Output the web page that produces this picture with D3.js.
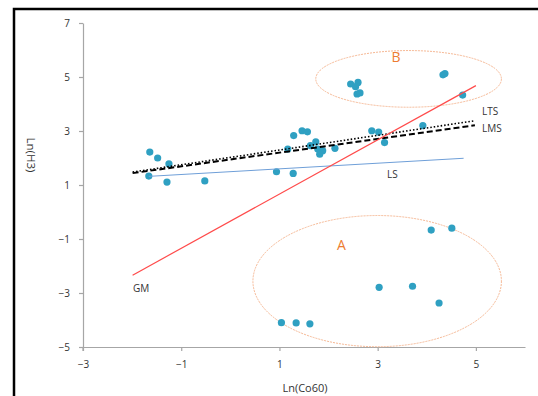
<!DOCTYPE html>
<html>
<head>
<meta charset="utf-8">
<script src="https://cdn.jsdelivr.net/npm/d3@7"></script>
<style>
body { margin: 0; background: #fff; }
text { font-family: "Open Sans", "Noto Sans", sans-serif; fill: #333; }
</style>
</head>
<body>
<svg id="chart" width="538" height="396"></svg>
<script>
// Ln(Co60) vs Ln(H3) points
var lnCo60 = [-1.64, -1.48, -1.25, -1.66, -1.29, -0.52,
    0.94, 1.28, 1.29, 1.46, 1.57, 1.17, 1.74, 1.63, 1.78, 1.88, 1.82, 2.13, 2.88, 3.02, 3.14, 3.92,
    2.45, 2.60, 2.55, 2.58, 2.64, 4.33, 4.37, 4.73,
    4.09, 4.51, 3.03, 3.71, 4.25, 1.04, 1.34, 1.62];
var lnH3 = [2.22, 2.00, 1.78, 1.33, 1.11, 1.15,
    1.49, 1.43, 2.83, 3.01, 2.97, 2.33, 2.60, 2.46, 2.33, 2.27, 2.14, 2.36, 3.01, 2.96, 2.57, 3.20,
    4.74, 4.80, 4.64, 4.37, 4.41, 5.08, 5.13, 4.33,
    -0.67, -0.60, -2.79, -2.75, -3.37, -4.10, -4.11, -4.14];

// fitted lines: name, x0, y0, x1, y1
var fitNames = ["LS", "LMS", "LTS", "GM"];
var fitX0 = [-1.66, -1.99, -1.99, -1.99];
var fitY0 = [1.32, 1.44, 1.48, -2.34];
var fitX1 = [4.75, 4.98, 4.98, 5.0];
var fitY1 = [1.99, 3.21, 3.38, 4.68];

// outlier groups: label, center x, center y, radius x, radius y, label spot
var groupNames = ["A", "B"];
var groupCx = [2.99, 3.63];
var groupCy = [-2.56, 4.93];
var groupRx = [2.53, 1.89];
var groupRy = [2.43, 1.05];
var groupLabelX = [2.17, 3.28];
var groupLabelY = [-1.41, 5.56];

var xTicks = [-3, -1, 1, 3, 5];
var yTicks = [-5, -3, -1, 1, 3, 5, 7];

var svg = d3.select("#chart");

// frame
svg.append("path")
    .attr("d", "M14,396 V9 H538")
    .attr("fill", "none")
    .attr("stroke", "#000")
    .attr("stroke-width", 2.5);

var x = d3.scaleLinear().domain([-3, 6]).range([83, 525]);
var y = d3.scaleLinear().domain([-5, 7]).range([347, 23]);

var fmt = function (d) { return d < 0 ? "\u2212" + Math.abs(d) : String(d); };

var xAxis = svg.append("g")
    .attr("transform", "translate(0," + y(-5) + ")")
    .call(d3.axisBottom(x).tickValues(xTicks).tickSize(4).tickSizeOuter(0).tickPadding(10).tickFormat(fmt));
var yAxis = svg.append("g")
    .attr("transform", "translate(" + x(-3) + ",0)")
    .call(d3.axisLeft(y).tickValues(yTicks).tickSize(4).tickSizeOuter(0).tickPadding(9).tickFormat(fmt));

[xAxis, yAxis].forEach(function (a) {
    a.select(".domain").attr("stroke", "#a6a6a6").attr("stroke-width", 1.2);
    a.selectAll(".tick line").attr("stroke", "#a6a6a6").attr("stroke-width", 1.2);
    a.selectAll(".tick text").attr("font-size", 10).attr("fill", "#333")
        .style("font-family", "'Open Sans', 'Noto Sans', sans-serif");
});
// y axis runs a little past the bottom
svg.append("line")
    .attr("x1", x(-3)).attr("x2", x(-3))
    .attr("y1", y(-5)).attr("y2", y(-5) + 4)
    .attr("stroke", "#a6a6a6").attr("stroke-width", 1.2);

svg.append("text")
    .attr("x", 305).attr("y", 392)
    .attr("text-anchor", "middle")
    .attr("font-size", 11)
    .text("Ln(Co60)");
svg.append("text")
    .attr("transform", "translate(27,155) rotate(90)")
    .attr("text-anchor", "middle")
    .attr("font-size", 11.5)
    .text("Ln(H3)");

// outlier ellipses
groupNames.forEach(function (g, i) {
    svg.append("ellipse")
        .attr("cx", x(groupCx[i]))
        .attr("cy", y(groupCy[i]))
        .attr("rx", x(groupCx[i] + groupRx[i]) - x(groupCx[i]))
        .attr("ry", y(groupCy[i] - groupRy[i]) - y(groupCy[i]))
        .attr("fill", "none")
        .attr("stroke", "#f6b894")
        .attr("stroke-width", 1)
        .attr("stroke-dasharray", "2,1");
    svg.append("text")
        .attr("x", x(groupLabelX[i]))
        .attr("y", y(groupLabelY[i]))
        .attr("font-size", 14)
        .style("fill", "#ed7d31")
        .text(g);
});

// points
svg.append("g")
    .selectAll("circle")
    .data(lnCo60)
    .enter().append("circle")
    .attr("cx", function (d) { return x(d); })
    .attr("cy", function (d, i) { return y(lnH3[i]); })
    .attr("r", 3.6)
    .attr("fill", "#2fa0c2");

// fitted lines
var lineStyle = {
    LS: { color: "#6f9fd8", width: 1, dash: null },
    LMS: { color: "#000", width: 2, dash: "6,3" },
    LTS: { color: "#000", width: 1.6, dash: "1.5,2" },
    GM: { color: "#ff4b4b", width: 1.2, dash: null }
};
fitNames.forEach(function (n, i) {
    var s = lineStyle[n];
    svg.append("line")
        .attr("x1", x(fitX0[i])).attr("y1", y(fitY0[i]))
        .attr("x2", x(fitX1[i])).attr("y2", y(fitY1[i]))
        .attr("stroke", s.color)
        .attr("stroke-width", s.width)
        .attr("stroke-dasharray", s.dash);
});

// line labels
var labelX = [387, 482, 482, 133];
var labelY = [178, 132, 115, 292];
fitNames.forEach(function (n, i) {
    svg.append("text")
        .attr("x", labelX[i]).attr("y", labelY[i])
        .attr("font-size", 10)
        .text(n);
});
</script>
</body>
</html>
